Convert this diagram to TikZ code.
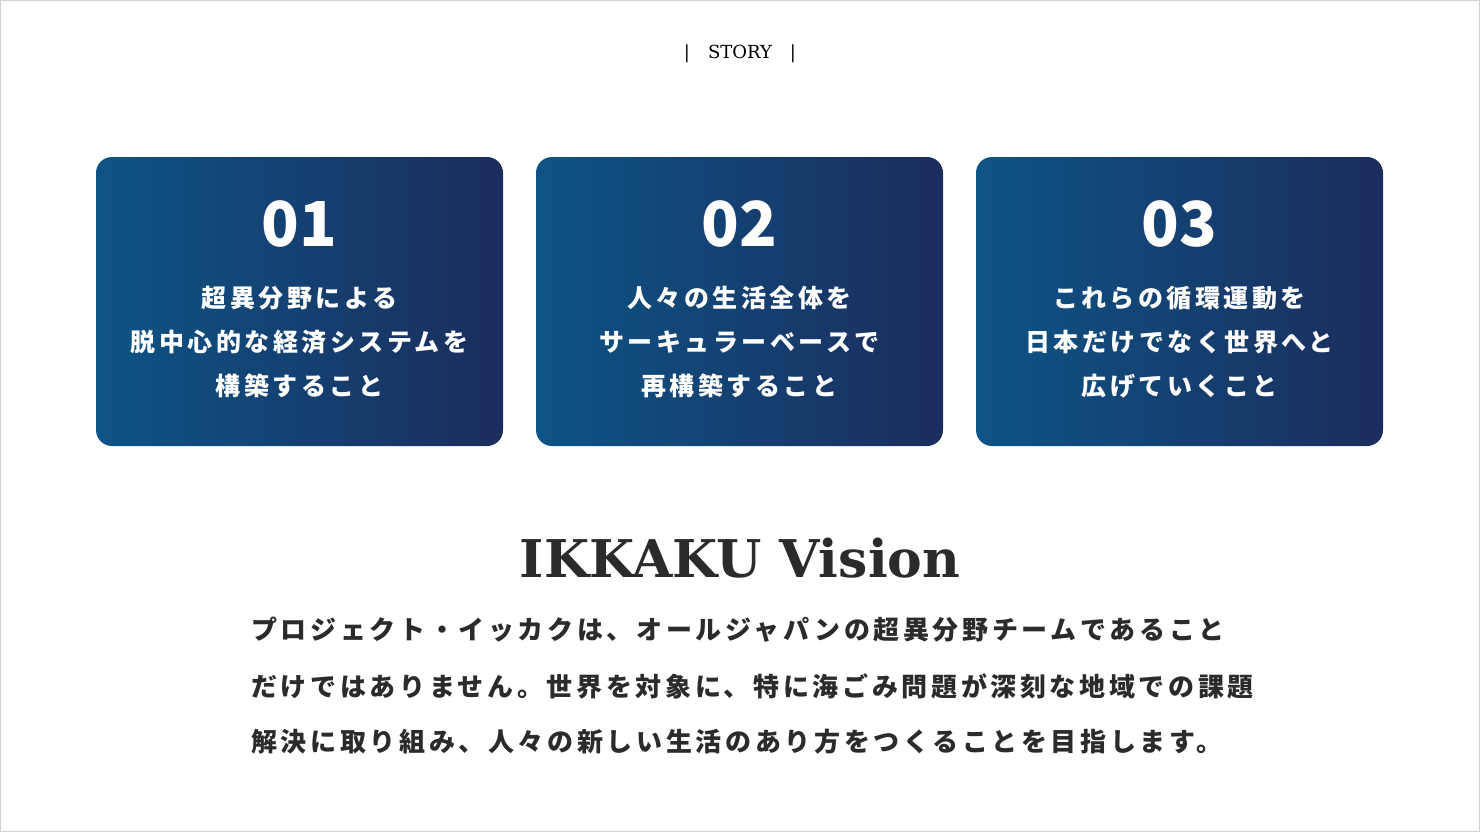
\documentclass[tikz,border=0pt]{standalone}
\usepackage{fontspec}
\newfontfamily\jp[LetterSpace=14]{Noto Sans CJK JP}
\newfontfamily\jpnum{Noto Sans CJK JP}
\newfontfamily\slab{DejaVu Serif}
\definecolor{cardblue}{HTML}{0D5486}
\definecolor{carddark}{HTML}{1B2D5C}
\definecolor{ink}{HTML}{2B2B2B}
\tikzset{
 card/.style={rounded corners=16pt, shading angle=135, left color=cardblue, middle color=cardblue, right color=carddark},
 num/.style={text=white, font=\jpnum\bfseries\fontsize{62}{62}\selectfont},
 ctext/.style={text=white, align=center, font=\jp\bfseries\fontsize{25}{44}\selectfont},
 body/.style={text=ink, anchor=west, inner sep=0, font=\jp\bfseries\fontsize{26}{26}\selectfont}
}
\begin{document}
\begin{tikzpicture}[x=1pt,y=-1pt]
\useasboundingbox (0,0) rectangle (1480,832);
\draw[gray!35, line width=2pt] (0,0) rectangle (1480,832);
\node (story) at (740,54) {\slab\fontsize{18}{18}\selectfont |\quad STORY\quad |};
\foreach \x/\n/\t in {96/01/{超異分野による\\脱中心的な経済システムを\\構築すること},
 536/02/{人々の生活全体を\\サーキュラーベースで\\再構築すること},
 976/03/{これらの循環運動を\\日本だけでなく世界へと\\広げていくこと}}{
 \shade[card] (\x,157) rectangle ++(407,289);
 \node[num] (n\n) at (\x+203.5,224) {\n};
 \node[ctext] (t\n) at (\x+203.5,342) {\t};
}
\node[text=ink, font=\slab\bfseries\fontsize{52}{52}\selectfont] (title) at (740,558) {IKKAKU Vision};
\node[body] (b1) at (251,630) {プロジェクト・イッカクは、オールジャパンの超異分野チームであること};
\node[body] (b2) at (251,686) {だけではありません。世界を対象に、特に海ごみ問題が深刻な地域での課題};
\node[body] (b3) at (251,742) {解決に取り組み、人々の新しい生活のあり方をつくることを目指します。};
\end{tikzpicture}
\end{document}
